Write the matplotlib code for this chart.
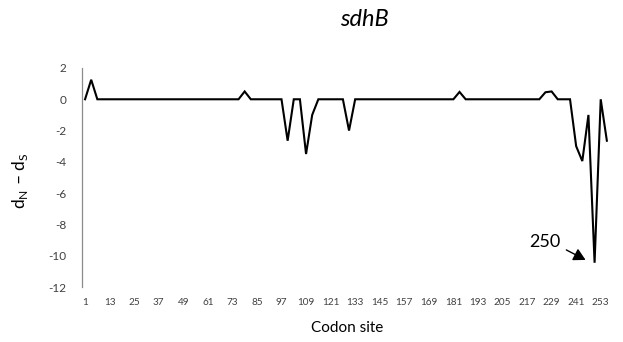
import matplotlib
matplotlib.use("Agg")
import matplotlib.pyplot as plt

plt.rcParams['font.family'] = ['Lato', 'DejaVu Sans']
plt.rcParams['mathtext.fontset'] = 'custom'
plt.rcParams['mathtext.rm'] = 'Lato'

# Codon sites (every third codon) and dN - dS at each site
sites = [1, 4, 7, 10, 13, 16, 19, 22, 25, 28, 31, 34, 37, 40, 43, 46, 49, 52,
         55, 58, 61, 64, 67, 70, 73, 76, 79, 82, 85, 88, 91, 94, 97, 100, 103,
         106, 109, 112, 115, 118, 121, 124, 127, 130, 133, 136, 139, 142, 145,
         148, 151, 154, 157, 160, 163, 166, 169, 172, 175, 178, 181, 184, 187,
         190, 193, 196, 199, 202, 205, 208, 211, 214, 217, 220, 223, 226, 229,
         232, 235, 238, 241, 244, 247, 250, 253, 256]
dn_ds = [0, 1.25, 0, 0, 0, 0, 0, 0, 0, 0, 0, 0, 0, 0, 0, 0, 0, 0,
         0, 0, 0, 0, 0, 0, 0, 0, 0.5, 0, 0, 0, 0, 0, 0, -2.65, 0,
         0, -3.5, -1.0, 0, 0, 0, 0, 0, -2.0, 0, 0, 0, 0, 0,
         0, 0, 0, 0, 0, 0, 0, 0, 0, 0, 0, 0, 0.47, 0,
         0, 0, 0, 0, 0, 0, 0, 0, 0, 0, 0, 0, 0.45, 0.5,
         0, 0, 0, -3.0, -3.95, -1.0, -10.45, 0, -2.65]

tick_sites = [1, 13, 25, 37, 49, 61, 73, 85, 97, 109, 121, 133, 145, 157,
              169, 181, 193, 205, 217, 229, 241, 253]
y_ticks = [2, 0, -2, -4, -6, -8, -10, -12]

highlight_site = 250
highlight_value = dn_ds[sites.index(highlight_site)]

fig = plt.figure(figsize=(6.23, 3.42), dpi=100)
ax = fig.add_axes([0.1316, 0.1608, 0.8507, 0.6404])

ax.plot(sites, dn_ds, color='black', lw=1.5, solid_joinstyle='miter')

ax.set_xlim(-0.5, 258.5)
ax.set_ylim(-12, 2)
ax.set_xticks(tick_sites)
ax.set_xticklabels([str(t) for t in tick_sites], fontsize=7.2, color='#404040')
ax.set_yticks(y_ticks)
ax.set_yticklabels([str(t) for t in y_ticks], fontsize=8.5, color='#404040')
ax.tick_params(axis='x', length=0, pad=8)
ax.tick_params(axis='y', length=0, pad=11)

for side in ['top', 'right', 'bottom']:
    ax.spines[side].set_visible(False)
ax.spines['left'].set_color('#8c8c8c')
ax.spines['left'].set_linewidth(0.9)

# label for the strongest purifying site, with its pointer arrow
ax.text(225.8, -9.1, str(highlight_site), fontsize=13, ha='center', va='center')
ax.annotate('', xy=(highlight_site - 4.4, highlight_value + 0.18),
            xytext=(highlight_site - 13.8, highlight_value + 0.82),
            arrowprops=dict(arrowstyle='-|>,head_length=0.55,head_width=0.3',
                            color='black', lw=1.0, shrinkA=0, shrinkB=0,
                            mutation_scale=13))

fig.text(364 / 623, 1 - 19 / 342, 'sdhB', fontsize=17, style='italic',
         ha='center', va='center')
fig.text(347 / 623, 1 - 328 / 342, 'Codon site', fontsize=11,
         ha='center', va='center')
fig.text(20 / 623, 1 - 181 / 342, r'd$_\mathregular{N}$ – d$_\mathregular{S}$',
         fontsize=12.5, rotation=90, ha='center', va='center')

fig.savefig('out.png', dpi=100)
